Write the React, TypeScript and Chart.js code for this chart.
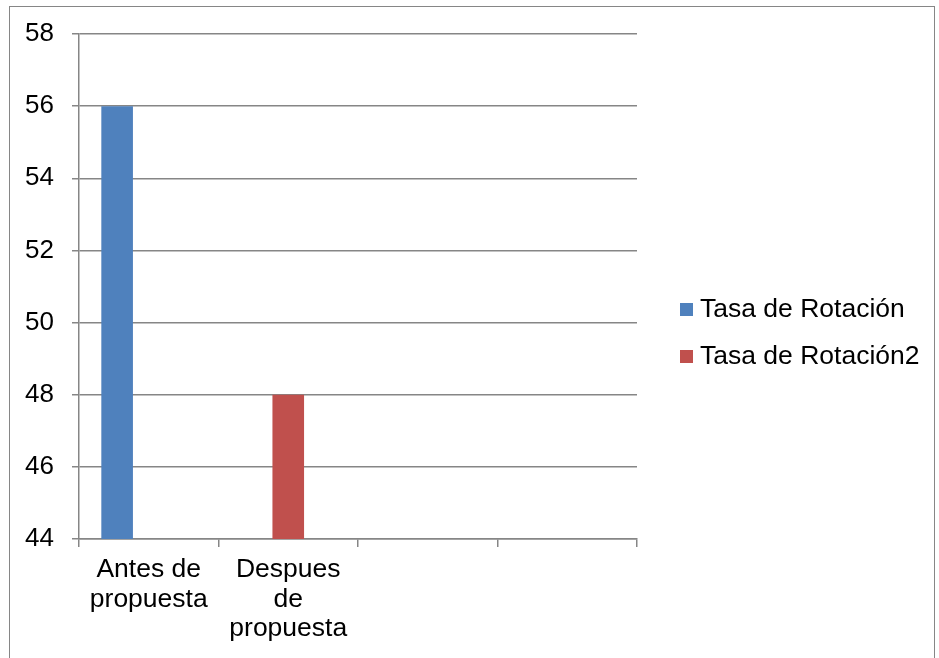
import { useEffect, useRef } from 'react';
import { Chart, registerables } from 'chart.js';

Chart.register(...registerables);

// Categories on the x axis (multi-line labels), two trailing empty slots
const categories: (string | string[])[] = [
  ['Antes de', 'propuesta'],
  ['Despues', 'de', 'propuesta'],
  '',
  '',
];

// Series names and values
const seriesNames = ['Tasa de Rotación', 'Tasa de Rotación2', ''];
const antesValues = [56, null, null, null];
const despuesValues = [null, 48, null, null];
const spareValues = [null, null, null, null];
const seriesColors = ['#4F81BD', '#C0504D', '#9BBB59'];

// Value axis range
const yMin = 44;
const yMax = 58;
const yStep = 2;

const FONT = '"Liberation Sans", Arial, Helvetica, sans-serif';
const GRAY = '#868686';

// Legend drawn to the right of the plot area, one row per named series
const sideLegend = {
  id: 'sideLegend',
  afterDraw(chart: any) {
    const { ctx, chartArea } = chart;
    const x0 = chartArea.right + 43;
    const y0 = (chartArea.top + chartArea.bottom) / 2 + 23.5;
    ctx.save();
    ctx.font = `26.5px ${FONT}`;
    ctx.textBaseline = 'middle';
    ctx.textAlign = 'left';
    let row = 0;
    chart.data.datasets.forEach((ds: any) => {
      if (!ds.label) return;
      const y = y0 + row * 47;
      ctx.fillStyle = ds.backgroundColor;
      ctx.fillRect(x0, y - 7, 13, 13);
      ctx.fillStyle = '#000';
      ctx.fillText(ds.label, x0 + 20, y);
      row++;
    });
    ctx.restore();
  },
};

export default function App() {
  const canvasRef = useRef<HTMLCanvasElement | null>(null);

  useEffect(() => {
    if (!canvasRef.current) return;
    const values = [antesValues, despuesValues, spareValues];
    const chart = new Chart(canvasRef.current, {
      type: 'bar',
      data: {
        labels: categories,
        datasets: values.map((v, i) => ({
          label: seriesNames[i],
          data: v,
          backgroundColor: seriesColors[i],
          borderWidth: 0,
          barPercentage: 1,
          categoryPercentage: 0.68,
        })),
      },
      options: {
        responsive: false,
        animation: false,
        layout: { padding: { top: 34, right: 302, left: 0, bottom: 0 } },
        plugins: {
          legend: { display: false },
          tooltip: { enabled: false },
        },
        scales: {
          x: {
            grid: {
              display: true,
              drawOnChartArea: false,
              drawTicks: true,
              tickLength: 8,
              color: GRAY,
              lineWidth: 1.5,
              offset: true,
            },
            border: { color: GRAY, width: 1.5 },
            ticks: {
              color: '#000',
              font: { family: FONT, size: 26.5, lineHeight: 1.113 },
              padding: 8,
              maxRotation: 0,
              minRotation: 0,
              autoSkip: false,
            },
            afterFit(scale: any) {
              scale.height = 119;
            },
          },
          y: {
            min: yMin,
            max: yMax,
            ticks: {
              stepSize: yStep,
              padding: 18,
              color: '#000',
              font: { family: FONT, size: 26 },
            },
            grid: { color: GRAY, lineWidth: 1.5, tickLength: 7 },
            border: { color: GRAY, width: 1.5 },
            afterFit(scale: any) {
              scale.width = 79;
            },
          },
        },
      },
      plugins: [sideLegend],
    });
    return () => chart.destroy();
  }, []);

  return (
    <div style={{ position: 'fixed', left: 0, top: 0, width: 939, height: 658, background: '#fff', overflow: 'hidden' }}>
      <div
        style={{
          position: 'absolute',
          left: 9,
          top: 6,
          width: 926,
          height: 700,
          border: `1px solid ${GRAY}`,
          boxSizing: 'border-box',
        }}
      />
      <canvas ref={canvasRef} width={939} height={658} style={{ position: 'absolute', left: 0, top: 0 }} />
    </div>
  );
}
